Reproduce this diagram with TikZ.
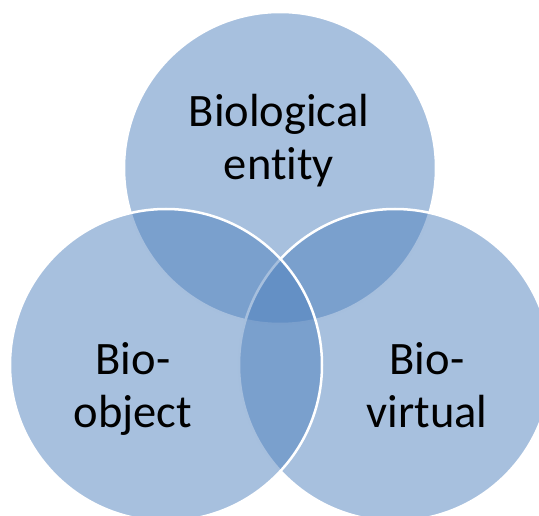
\documentclass[tikz,border=0pt]{standalone}
\usepackage{fontspec}
\setmainfont{Carlito}[Ligatures={NoCommon}]
\definecolor{venn}{HTML}{4F81BD}
\tikzset{
  venncircle/.style={circle, fill=venn, fill opacity=0.5, draw=white, line width=2.5pt, minimum size=312pt, inner sep=0pt},
  vennlabel/.style={align=center, font=\fontsize{46.5}{53}\selectfont, text=black, inner sep=0pt}
}
\begin{document}
\begin{tikzpicture}[x=1pt,y=-1pt]
\useasboundingbox (0,0) rectangle (539,516);
\clip (0,0) rectangle (539,516);
\node[venncircle] (top) at (280,168) {};
\node[venncircle] (right) at (395,365) {};
\node[venncircle] (left) at (166,365) {};
\node[vennlabel] (tl) at (279,141) {Biological\\entity};
\node[vennlabel] (ll) at (133,389) {Bio-\\object};
\node[vennlabel] (rl) at (427,385) {Bio-\\virtual};
\end{tikzpicture}
\end{document}
